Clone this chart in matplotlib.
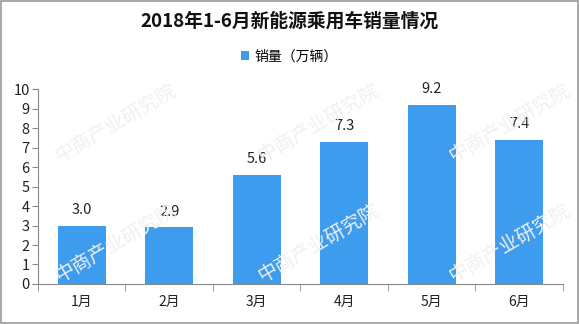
import matplotlib
matplotlib.use("Agg")
import matplotlib.pyplot as plt
from matplotlib.patches import Rectangle

plt.rcParams['font.family'] = ['Noto Sans CJK SC', 'DejaVu Sans']

months = ["1月", "2月", "3月", "4月", "5月", "6月"]
sales = [3.0, 2.9, 5.6, 7.3, 9.2, 7.4]
series_name = "销量（万辆）"
title = "2018年1-6月新能源乘用车销量情况"

bar_color = "#3E9CEE"

fig = plt.figure(figsize=(5.79, 3.24), dpi=100)
fig.patch.set_facecolor("white")

# faint watermarks
for (x, y) in [(0.2, 0.62), (0.55, 0.62), (0.88, 0.62), (0.2, 0.25), (0.55, 0.25), (0.88, 0.25)]:
    fig.text(x, y, "中商产业研究院", fontsize=14, color="#F0F0F0", rotation=30,
             ha="center", va="center", zorder=0)

ax = fig.add_axes([0.0656, 0.1235, 0.9064, 0.6015])
ax.patch.set_alpha(0)
x = range(len(months))
bars = ax.bar(x, sales, width=0.55, color=bar_color, label=series_name, zorder=2)
for xi, v in zip(x, sales):
    ax.text(xi, v + 0.45, f"{v:.1f}", ha="center", va="bottom", fontsize=10.5, color="#222222")

ax.set_xlim(-0.5, len(months) - 0.5)
ax.set_ylim(0, 10)
ax.set_yticks(range(0, 11))
ax.tick_params(axis="y", labelsize=10.5, length=4, color="#888888", labelcolor="#222222", pad=2)
ax.set_xticks(x)
ax.set_xticklabels(months)
ax.set_xticks([i - 0.5 for i in range(len(months) + 1)], minor=True)
ax.tick_params(axis="x", which="major", length=0, labelsize=10, labelcolor="#222222", pad=8)
ax.tick_params(axis="x", which="minor", length=5, color="#888888")
for s in ["top", "right"]:
    ax.spines[s].set_visible(False)
for s in ["left", "bottom"]:
    ax.spines[s].set_color("#888888")

fig.text(0.5, 0.935, title, ha="center", va="center", fontsize=13.5, fontweight="bold", color="#111111")
leg = fig.legend(handles=[bars], labels=[series_name], loc="center", bbox_to_anchor=(0.5, 0.825),
                 frameon=False, fontsize=10, handlelength=0.6, handleheight=0.6, handletextpad=0.4)

fig.add_artist(Rectangle((0.001, 0.002), 0.997, 0.995, transform=fig.transFigure,
                         fill=False, edgecolor="#999999", linewidth=1.2))

fig.savefig("out.png", dpi=100)
